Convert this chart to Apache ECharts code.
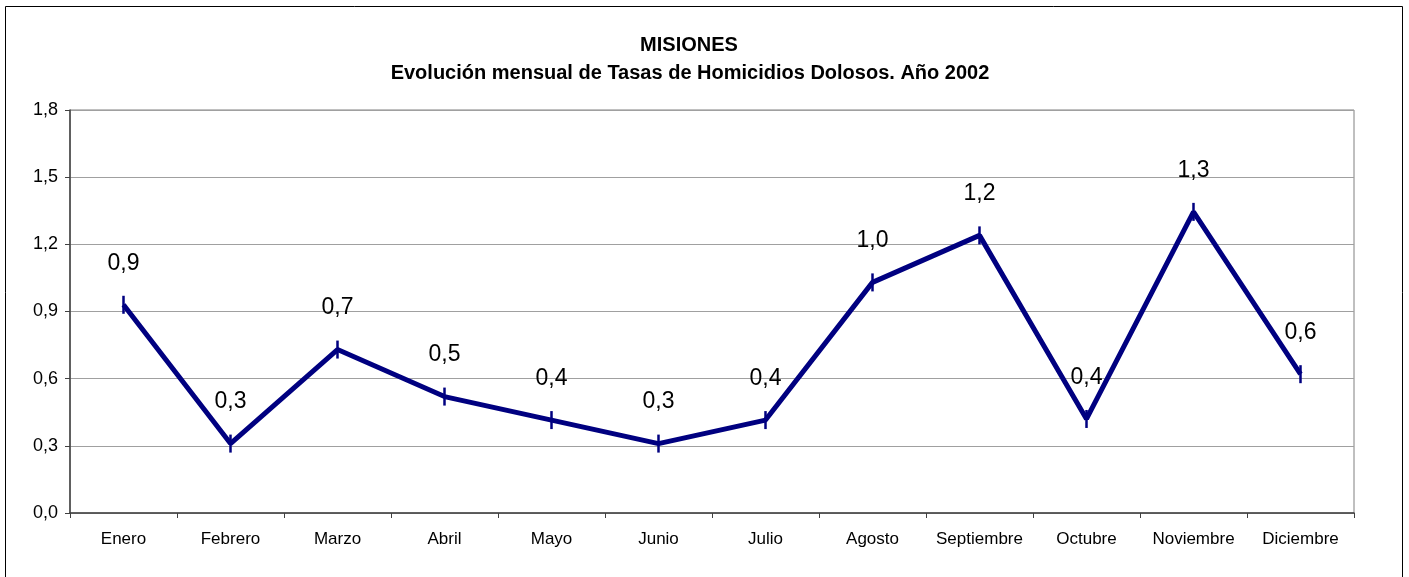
<!DOCTYPE html>
<html>
<head>
<meta charset="utf-8">
<script src="https://cdn.jsdelivr.net/npm/echarts@6/dist/echarts.min.js"></script>
<style>
html,body{margin:0;padding:0;background:#fff;}
#c{width:1409px;height:577px;}
</style>
</head>
<body>
<div id="c"></div>
<script>
const categories = ['Enero','Febrero','Marzo','Abril','Mayo','Junio','Julio','Agosto','Septiembre','Octubre','Noviembre','Diciembre'];
const tasas = [0.93, 0.31, 0.73, 0.52, 0.415, 0.31, 0.415, 1.03, 1.24, 0.42, 1.345, 0.62];
const yTicks = [0, 0.3, 0.6, 0.9, 1.2, 1.5, 1.8];
const titleLine1 = 'MISIONES';
const titleLine2 = 'Evolución mensual de Tasas de Homicidios Dolosos. Año 2002';

const fmt = v => Number(v).toFixed(1).replace('.', ',');
const titleFont = { fontFamily: 'Liberation Sans, Arial', fontSize: 20, fontWeight: 'bold', fill: '#000', align: 'center', verticalAlign: 'middle' };
const chart = echarts.init(document.getElementById('c'));
chart.setOption({
  backgroundColor: '#fff',
  animation: false,
  graphic: [{
    type: 'rect',
    shape: { x: 5.5, y: 6.5, width: 1397, height: 600 },
    style: { fill: 'none', stroke: '#000', lineWidth: 1 },
    silent: true
  }, {
    type: 'text', x: 689, y: 45,
    style: Object.assign({ text: titleLine1 }, titleFont)
  }, {
    type: 'text', x: 690, y: 73,
    style: Object.assign({ text: titleLine2 }, titleFont)
  }],
  grid: { left: 70, right: 55, top: 110, bottom: 64, containLabel: false, show: true, borderColor: '#808080', borderWidth: 1 },
  xAxis: {
    type: 'category',
    data: categories,
    boundaryGap: true,
    axisLine: { lineStyle: { color: '#404040', width: 1.5 } },
    axisTick: { show: true, inside: false, length: 5, lineStyle: { color: '#404040' } },
    axisLabel: { color: '#000', fontFamily: 'Liberation Sans, Arial', fontSize: 17, margin: 18, interval: 0 },
    splitLine: { show: false }
  },
  yAxis: {
    type: 'value',
    min: yTicks[0],
    max: yTicks[yTicks.length - 1],
    interval: 0.3,
    axisLine: { show: true, lineStyle: { color: '#404040', width: 1.5 } },
    axisTick: { show: true, inside: false, length: 5, lineStyle: { color: '#404040' } },
    axisLabel: { color: '#000', fontFamily: 'Liberation Sans, Arial', fontSize: 18, margin: 12, formatter: fmt },
    splitLine: { show: true, lineStyle: { color: '#a0a0a0', width: 1 } }
  },
  series: [{
    type: 'line',
    data: tasas,
    lineStyle: { color: '#000080', width: 5 },
    itemStyle: { color: '#000080' },
    symbol: 'rect',
    symbolSize: [2.5, 18],
    showAllSymbol: true,
    label: {
      show: true,
      position: 'top',
      distance: 21,
      color: '#000',
      fontFamily: 'Liberation Sans, Arial',
      fontSize: 23,
      formatter: p => fmt(p.value)
    }
  }]
});
</script>
</body>
</html>
